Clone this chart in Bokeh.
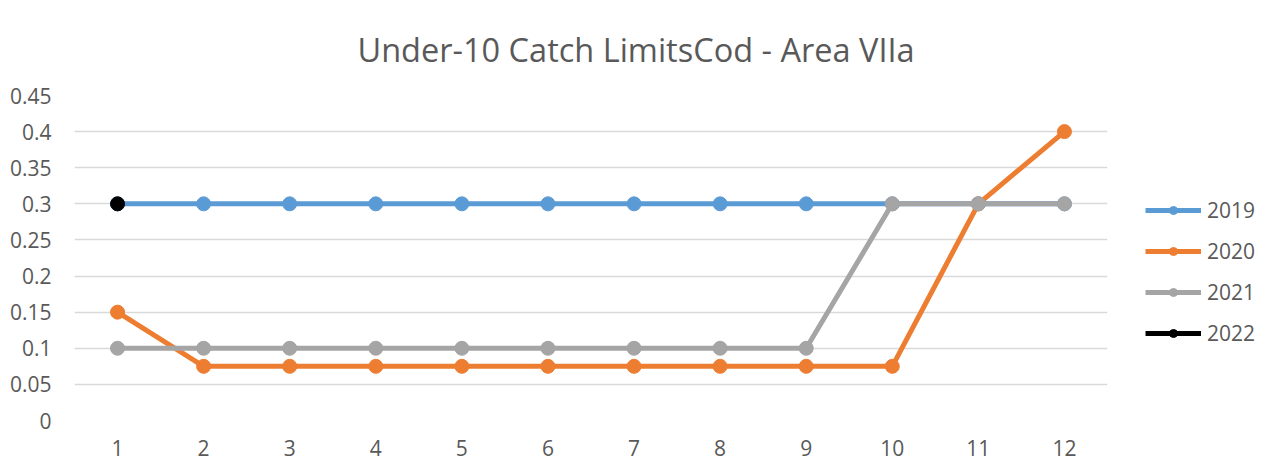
from bokeh.plotting import figure
from bokeh.models import Range1d, FactorRange, FixedTicker, NumeralTickFormatter, Legend, LegendItem
from bokeh.embed import file_html
from bokeh.resources import INLINE

title_text = "Under-10 Catch LimitsCod - Area VIIa"
months = ["1", "2", "3", "4", "5", "6", "7", "8", "9", "10", "11", "12"]
y_ticks = [0, 0.05, 0.1, 0.15, 0.2, 0.25, 0.3, 0.35, 0.4, 0.45]

years = ["2019", "2020", "2021", "2022"]
v2019 = [0.3, 0.3, 0.3, 0.3, 0.3, 0.3, 0.3, 0.3, 0.3, 0.3, 0.3, 0.3]
v2020 = [0.15, 0.075, 0.075, 0.075, 0.075, 0.075, 0.075, 0.075, 0.075, 0.075, 0.3, 0.4]
v2021 = [0.1, 0.1, 0.1, 0.1, 0.1, 0.1, 0.1, 0.1, 0.1, 0.3, 0.3, 0.3]
m2022 = ["1"]
v2022 = [0.3]

colors = ["#5b9bd5", "#ed7d31", "#a5a5a5", "#000000"]
TEXT = "#595959"
FONT = "Open Sans"

p = figure(x_range=FactorRange(*months), y_range=Range1d(0, 0.45),
           frame_width=1033, frame_height=325,
           min_border_left=74, min_border_right=169, min_border_top=95, min_border_bottom=48,
           output_backend="svg", toolbar_location=None, title=title_text)

p.title.align = "left"
p.title.offset = 283
p.title.text_font = FONT
p.title.text_font_size = "32.5px"
p.title.text_font_style = "normal"
p.title.text_color = TEXT
p.title.standoff = 48

p.outline_line_color = None
p.xgrid.grid_line_color = None
p.ygrid.ticker = FixedTicker(ticks=y_ticks)
p.ygrid.grid_line_color = "#d9d9d9"
p.ygrid.grid_line_width = 1.5

p.yaxis.ticker = FixedTicker(ticks=y_ticks)
p.yaxis.formatter = NumeralTickFormatter(format="0.[00]")
for ax in (p.xaxis[0], p.yaxis[0]):
    ax.axis_line_color = None
    ax.major_tick_line_color = None
    ax.minor_tick_line_color = None
    ax.major_label_text_font = FONT
    ax.major_label_text_font_size = "21px"
    ax.major_label_text_color = TEXT
p.yaxis.major_label_standoff = 17
p.xaxis.major_label_standoff = 13

series = [(months, v2019), (months, v2020), (months, v2021), (m2022, v2022)]
items = []
for (xs, ys), c, yr in zip(series, colors, years):
    r1 = p.line(xs, ys, line_color=c, line_width=5)
    r2 = p.scatter(xs, ys, size=14, fill_color=c, line_color=c)
    items.append(LegendItem(label=yr, renderers=[r1, r2]))

legend = Legend(items=items, location=(38, 73), padding=0, margin=0,
                glyph_width=56, glyph_height=20, spacing=13, label_standoff=6,
                label_text_font=FONT, label_text_font_size="21px", label_text_color=TEXT,
                border_line_color=None, background_fill_alpha=0)
p.add_layout(legend, "right")

open("out.html", "w").write(file_html(p, INLINE))
